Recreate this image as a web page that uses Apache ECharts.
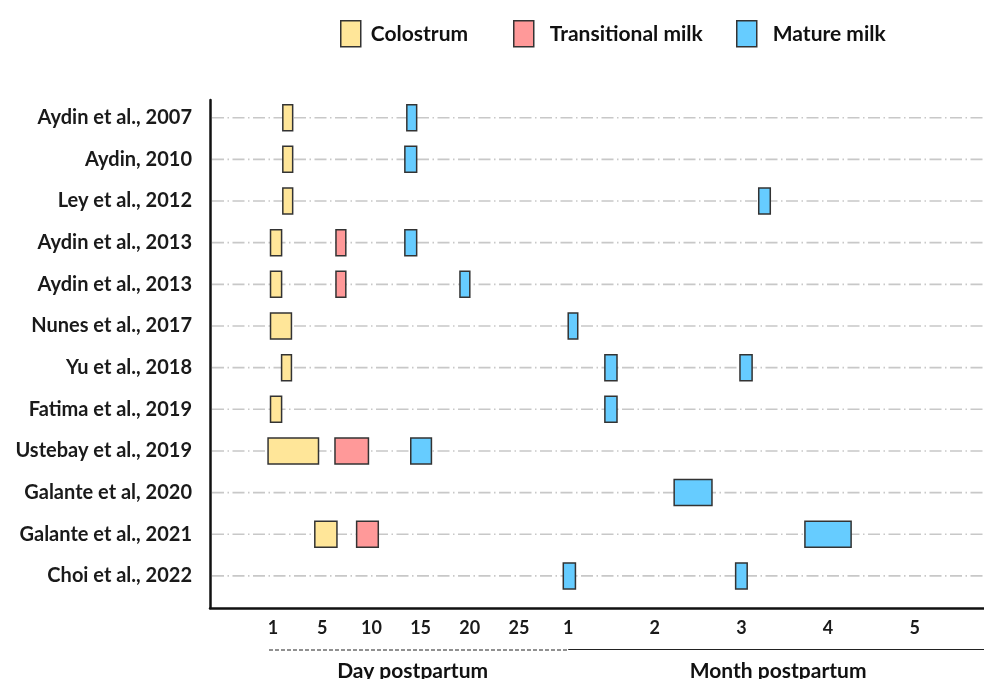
<!DOCTYPE html>
<html>
<head>
<meta charset="utf-8">
<script src="https://cdn.jsdelivr.net/npm/echarts@6.0.0/dist/echarts.min.js"></script>
<style>
  html, body { margin: 0; padding: 0; background: #fff; }
  #timeChart { width: 984px; height: 679px; }
</style>
</head>
<body>
<div id="timeChart"></div>
<script>
// studies, top to bottom
const studies = ['Aydin et al., 2007', 'Aydin, 2010', 'Ley et al., 2012', 'Aydin et al., 2013', 'Aydin et al., 2013',
  'Nunes et al., 2017', 'Yu et al., 2018', 'Fatima et al., 2019', 'Ustebay et al., 2019',
  'Galante et al, 2020', 'Galante et al., 2021', 'Choi et al., 2022']

// [study index, start day, end day] (days postpartum, a month = 30 days)
const colostrum = [
  [0, 1.8, 2.6], [1, 1.8, 2.6], [2, 1.8, 2.6], [3, 0.8, 1.7], [4, 0.8, 1.7], [5, 0.8, 2.5],
  [6, 1.7, 2.5], [7, 0.8, 1.7], [8, 0.6, 4.7], [10, 4.4, 6.5]
]
const transitional = [
  [3, 6.4, 7.4], [4, 6.4, 7.4], [8, 6.3, 9.7], [10, 8.5, 10.7]
]
const mature = [
  [0, 13.6, 14.6], [1, 13.4, 14.6], [2, 96, 100], [3, 13.4, 14.6], [4, 19, 20], [5, 30, 33.3],
  [6, 42.7, 46.9], [6, 89.5, 93.7], [7, 42.7, 46.9], [8, 14, 16.1], [9, 66.7, 79.8],
  [10, 112, 128], [11, 29.5, 32.5], [11, 88, 92]
]

// x ticks in days postpartum and their labels
const tickDays = [1, 5, 10, 15, 20, 25, 30, 60, 90, 120, 150]
const tickLabels = ['1', '5', '10', '15', '20', '25', '1', '2', '3', '4', '5']

// piecewise scale: day ticks evenly spaced, month ticks wider
const tickSlots = [0, 1, 2, 3, 4, 5, 6, 7.76, 9.52, 11.28, 13.04]

function toSlot(day) {
  let i = 0
  while (i < tickDays.length - 2 && day > tickDays[i + 1]) i++
  const t = (day - tickDays[i]) / (tickDays[i + 1] - tickDays[i])
  return tickSlots[i] + t * (tickSlots[i + 1] - tickSlots[i])
}

const font = 'Lato, "Noto Sans", sans-serif'
const boxColors = { 'Colostrum': '#ffe699', 'Transitional milk': '#ff9999', 'Mature milk': '#66ccff' }

function boxSeries(name, rows) {
  return {
    name: name,
    type: 'custom',
    z: 5,
    itemStyle: { color: boxColors[name], borderColor: '#333', borderWidth: 1.5 },
    encode: { x: [0, 1], y: 2 },
    data: rows.map(r => [toSlot(r[1]), toSlot(r[2]), r[0]]),
    renderItem: function (params, api) {
      const p1 = api.coord([api.value(0), api.value(2)])
      const p2 = api.coord([api.value(1), api.value(2)])
      return {
        type: 'rect',
        shape: { x: p1[0], y: p1[1] - 13, width: p2[0] - p1[0], height: 26 },
        style: { fill: boxColors[name], stroke: '#333', lineWidth: 1.5 }
      }
    }
  }
}

function legendFor(name, left, gap) {
  return {
    data: [name],
    left: left - 5,
    top: 15,
    icon: 'rect',
    itemWidth: 20,
    itemHeight: 26,
    itemStyle: { borderColor: '#333', borderWidth: 1.5 },
    textStyle: { fontFamily: font, fontWeight: 'bold', fontSize: 21, color: '#111', padding: [0, 0, 0, gap] }
  }
}

const chartInstance = echarts.init(document.getElementById('timeChart'))

const option = {
  backgroundColor: '#ffffff',
  animation: false,
  legend: [
    legendFor('Colostrum', 340, 5),
    legendFor('Transitional milk', 513, 11),
    legendFor('Mature milk', 736, 11)
  ],
  grid: { left: 210, right: 0, top: 100, bottom: 71 },
  xAxis: {
    type: 'value',
    min: -1.28,
    max: 14.45,
    axisLine: { onZero: false, lineStyle: { color: '#111', width: 2.5 } },
    axisTick: { show: false },
    splitLine: { show: false },
    axisLabel: {
      customValues: tickSlots,
      margin: 11,
      fontFamily: font,
      fontWeight: 'bold',
      fontSize: 18,
      color: '#1a1a1a',
      formatter: function (v) {
        const i = tickSlots.findIndex(s => Math.abs(s - v) < 1e-6)
        return i >= 0 ? tickLabels[i] : ''
      }
    }
  },
  yAxis: {
    type: 'value',
    inverse: true,
    min: -0.425,
    max: 11.77,
    axisLine: { onZero: false, lineStyle: { color: '#111', width: 2.5 } },
    axisTick: { show: false },
    splitLine: { show: false },
    axisLabel: {
      customValues: studies.map((s, i) => i),
      margin: 18,
      fontFamily: font,
      fontWeight: 'bold',
      fontSize: 20,
      color: '#1a1a1a',
      formatter: function (v) {
        return studies[Math.round(v)]
      }
    }
  },
  series: [
    {
      // dash-dot row guides
      type: 'custom',
      silent: true,
      z: 1,
      encode: { y: 0 },
      data: studies.map((s, i) => [i]),
      renderItem: function (params, api) {
        const cs = params.coordSys
        const y = api.coord([0, api.value(0)])[1]
        return {
          type: 'line',
          shape: { x1: cs.x + 2, y1: y, x2: cs.x + cs.width - 1, y2: y },
          style: { stroke: '#c8c8c8', lineWidth: 1.6, lineDash: [12, 3.5, 1.5, 3.5] }
        }
      }
    },
    boxSeries('Colostrum', colostrum),
    boxSeries('Transitional milk', transitional),
    boxSeries('Mature milk', mature)
  ]
}
chartInstance.setOption(option)

// period brackets under the axis
const dayStart = chartInstance.convertToPixel({ gridIndex: 0 }, [toSlot(1), 0])[0] - 4
const monthStart = chartInstance.convertToPixel({ gridIndex: 0 }, [toSlot(30), 0])[0]
const rightEnd = 984
chartInstance.setOption({
  graphic: [
    {
      type: 'line',
      shape: { x1: dayStart, y1: 650, x2: monthStart, y2: 650 },
      style: { stroke: '#222', lineWidth: 1.2, lineDash: [4, 2] }
    },
    {
      type: 'line',
      shape: { x1: monthStart, y1: 649.5, x2: rightEnd, y2: 649.5 },
      style: { stroke: '#222', lineWidth: 1.2 }
    },
    {
      type: 'text',
      x: (dayStart + monthStart) / 2 - 6,
      y: 661,
      style: { text: 'Day postpartum', fill: '#111', font: 'bold 21px ' + font, textAlign: 'center' }
    },
    {
      type: 'text',
      x: (monthStart + rightEnd) / 2 + 2,
      y: 661,
      style: { text: 'Month postpartum', fill: '#111', font: 'bold 21px ' + font, textAlign: 'center' }
    }
  ]
})

window.onresize = function () {
  chartInstance.resize()
}
</script>
</body>
</html>
